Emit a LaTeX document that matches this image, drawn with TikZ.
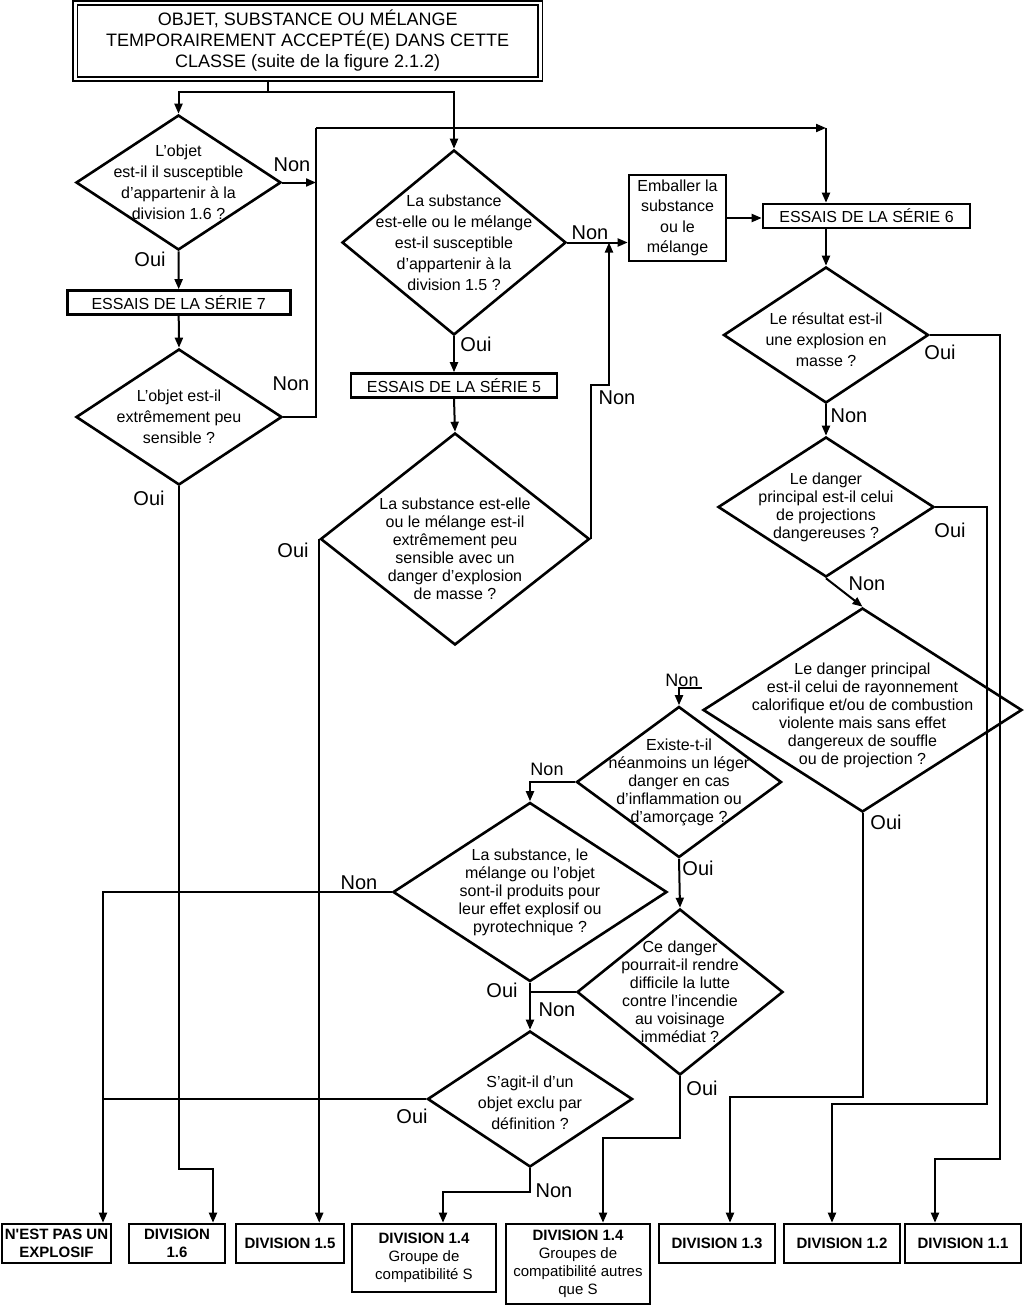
\documentclass[tikz,border=0pt]{standalone}
\usepackage{fontspec}
\setmainfont{Liberation Sans}
\usetikzlibrary{arrows.meta,positioning,shapes.geometric,calc}

\begin{document}
\begin{tikzpicture}[x=1pt,y=-1pt,
  lien/.style={line width=2pt},
  fleche/.style={lien,-{Triangle[length=10pt,width=8pt]}},
  question/.style={draw,diamond,line width=2.6pt,inner sep=0pt},
  qtexte/.style={align=center,inner sep=0pt,font=\fontsize{16}{18}\selectfont},
  qlarge/.style={qtexte,font=\fontsize{16}{21}\selectfont},
  essai/.style={draw,line width=2.6pt,inner sep=0pt,minimum height=24,font=\fontsize{16}{19}\selectfont},
  issue/.style={draw,line width=2.6pt,inner sep=0pt,minimum height=39,align=center,font=\fontsize{15}{18}\selectfont},
  rep/.style={inner sep=0pt,font=\fontsize{20}{24}\selectfont},
  petiterep/.style={rep,font=\fontsize{18}{22}\selectfont}]
\useasboundingbox (0,0) rectangle (1023,1306);

% en-tete
\node[draw,double,double distance=2.6pt,line width=1.7pt,minimum width=465,minimum height=76,
  align=center,font=\fontsize{18}{21}\selectfont] (titre) at (307.7,41)
  {OBJET, SUBSTANCE OU MÉLANGE\\TEMPORAIREMENT ACCEPTÉ(E) DANS CETTE\\CLASSE (suite de la figure 2.1.2)};

% colonne de gauche
\node[question,minimum width=205,minimum height=135,
  label={[qlarge]center:{L’objet\\est-il il susceptible\\d’appartenir à la\\division 1.6 ?}}] (d16) at (178.5,182.5) {};
\node[essai,minimum width=223] (s7) at (178.7,302.5) {ESSAIS DE LA SÉRIE 7};
\node[question,minimum width=206,minimum height=136,
  label={[qlarge]center:{L’objet est-il\\extrêmement peu\\sensible ?}}] (d17) at (179,417) {};

% colonne du milieu
\node[question,minimum width=224,minimum height=185,
  label={[qlarge]center:{La substance\\est-elle ou le mélange\\est-il susceptible\\d’appartenir à la\\division 1.5 ?}}] (d15) at (454,242.5) {};
\node[essai,minimum width=206] (s5) at (454,385.5) {ESSAIS DE LA SÉRIE 5};
\node[question,minimum width=269,minimum height=212,
  label={[qtexte,yshift=-10pt]center:{La substance est-elle\\ou le mélange est-il\\extrêmement peu\\sensible avec un\\danger d’explosion\\de masse ?}}] (d5) at (455,539) {};
\node[draw,line width=2.6pt,minimum width=97,minimum height=86,inner sep=0pt,align=center,
  font=\fontsize{16}{20.5}\selectfont] (emb) at (677.5,218) {Emballer la\\substance\\ou le\\mélange};

% colonne de droite
\node[essai,minimum width=207] (s6) at (866.5,216) {ESSAIS DE LA SÉRIE 6};
\node[question,minimum width=205,minimum height=136,
  label={[qlarge,yshift=-5pt]center:{Le résultat est-il\\une explosion en\\masse ?}}] (d6a) at (826,335) {};
\node[question,minimum width=216,minimum height=140,
  label={[qtexte]center:{Le danger\\principal est-il celui\\de projections\\dangereuses ?}}] (d6b) at (826,507) {};
\node[question,minimum width=319,minimum height=204,
  label={[qtexte,yshift=-5pt]center:{Le danger principal\\est-il celui de rayonnement\\calorifique et/ou de combustion\\violente mais sans effet\\dangereux de souffle\\ou de projection ?}}] (dbig) at (862.5,710) {};

% partie basse
\node[question,minimum width=205,minimum height=151,
  label={[qtexte]center:{Existe-t-il\\néanmoins un léger\\danger en cas\\d’inflammation ou\\d’amorçage ?}}] (dex) at (679,782) {};
\node[question,minimum width=274,minimum height=179,
  label={[qtexte]center:{La substance, le\\mélange ou l’objet\\sont-il produits pour\\leur effet explosif ou\\pyrotechnique ?}}] (dsub) at (530,892) {};
\node[question,minimum width=206,minimum height=166,
  label={[qtexte]center:{Ce danger\\pourrait-il rendre\\difficile la lutte\\contre l’incendie\\au voisinage\\immédiat ?}}] (dce) at (680,992) {};
\node[question,minimum width=205,minimum height=136,
  label={[qlarge,yshift=-4pt]center:{S’agit-il d’un\\objet exclu par\\définition ?}}] (dsagit) at (530,1099) {};

% issues
\node[issue,minimum width=109] (nest) at (56.5,1243.5) {\textbf{N\textquotesingle EST PAS UN}\\\textbf{EXPLOSIF}};
\node[issue,minimum width=96] (div16) at (177,1243.5) {\textbf{DIVISION}\\\textbf{1.6}};
\node[issue,minimum width=108] (div15) at (290,1243.5) {\textbf{DIVISION 1.5}};
\node[issue,minimum width=144,minimum height=68] (div14a) at (424,1258) {\textbf{DIVISION 1.4}\\Groupe de\\compatibilité S};
\node[issue,minimum width=144,minimum height=80] (div14b) at (578,1264) {\textbf{DIVISION 1.4}\\Groupes de\\compatibilité autres\\que S};
\node[issue,minimum width=116] (div13) at (717,1243.5) {\textbf{DIVISION 1.3}};
\node[issue,minimum width=116] (div12) at (842,1243.5) {\textbf{DIVISION 1.2}};
\node[issue,minimum width=116] (div11) at (963,1243.5) {\textbf{DIVISION 1.1}};

% liaisons
\coordinate (bif) at (268,92);
\coordinate (colA) at (316,128);
\coordinate (coinB) at (826,128);
\coordinate (c16) at (213,1169);
\coordinate (c5) at (609,385);
\coordinate (c11a) at (1000,1159);
\coordinate (c11) at (935,1159);
\coordinate (c12a) at (987,1104);
\coordinate (c12) at (832,1104);
\coordinate (c13) at (730,1097);
\coordinate (cex) at (702,688);
\coordinate (xN) at (103,892);
\coordinate (c14b) at (603,1138);
\coordinate (c14a) at (443,1192);

\draw[lien] (titre.south -| bif) -- (bif);
\draw[fleche] (bif) -| (d16.north);
\draw[fleche] (bif) -| (d15.north);
\draw[fleche] (d16.east) -- (d16.east -| colA);
\draw[lien] (d17.east) -| (colA);
\draw[fleche] (colA) -- (coinB);
\draw[fleche] (coinB) -- (coinB |- s6.north);
\draw[fleche] (d16.south) -- (s7.north);
\draw[fleche] (s7.south) -- (d17.north);
\draw[fleche] (d17.south) |- (c16) -- (c16 |- div16.north);

\draw[fleche] (d15.south) -- (s5.north);
\draw[fleche] (s5.south) -- (d5.north);
\draw[fleche] (d15.east) -- (d15.east -| emb.west);
\draw[fleche] (d5.east) |- (c5) -- (c5 |- d15.east);
\draw[fleche] (d5.west) -- (d5.west |- div15.north);
\draw[fleche] (emb.east) -- (emb.east -| s6.west);

\draw[fleche] (coinB |- s6.south) -- (d6a.north);
\draw[fleche] (d6a.south) -- (d6b.north);
\draw[fleche] (d6a.east) -| (c11a) -- (c11) -- (c11 |- div11.north);
\draw[fleche] (d6b.east) -| (c12a) -- (c12) -- (c12 |- div12.north);
\draw[fleche] (d6b.south) -- (dbig.north);
\draw[fleche] (dbig.south) |- (c13) -- (c13 |- div13.north);

\draw[fleche] (cex) -| (dex.north);
\draw[fleche] (dex.west) -| (dsub.north);
\draw[fleche] (dex.south) -- (dce.north);
\draw[fleche] (dsub.west) -- (xN) -- (xN |- nest.north);
\draw[lien] (dsagit.west) -- (dsagit.west -| xN);
\draw[fleche] (dsub.south) -- (dsagit.north);
\draw[lien] (dce.west) -- (dce.west -| dsub.south);
\draw[fleche] (dce.south) |- (c14b) -- (c14b |- div14b.north);
\draw[fleche] (dsagit.south) |- (c14a) -- (c14a |- div14a.north);

% reponses
\node[rep] (n16) at (292,165) {Non};
\node[rep] (o16) at (150,259) {Oui};
\node[rep] (n17) at (291,384) {Non};
\node[rep] (o17) at (149,498) {Oui};
\node[rep] (n15) at (590,233) {Non};
\node[rep] (o15) at (476,344) {Oui};
\node[rep] (n5) at (617,398) {Non};
\node[rep] (o5) at (293,550) {Oui};
\node[rep] (o6a) at (940,352) {Oui};
\node[rep] (n6a) at (849,416) {Non};
\node[rep] (o6b) at (950,530) {Oui};
\node[rep] (n6b) at (867,584) {Non};
\node[rep] (obig) at (886,822) {Oui};
\node[petiterep] (nbig) at (682,680) {Non};
\node[petiterep] (nex) at (547,769) {Non};
\node[rep] (oex) at (698,868) {Oui};
\node[rep] (nsub) at (359,883) {Non};
\node[rep] (osub) at (502,990) {Oui};
\node[rep] (nce) at (557,1010) {Non};
\node[rep] (oce) at (702,1088) {Oui};
\node[rep] (osag) at (412,1116) {Oui};
\node[rep] (nsag) at (554,1191) {Non};
\end{tikzpicture}
\end{document}
